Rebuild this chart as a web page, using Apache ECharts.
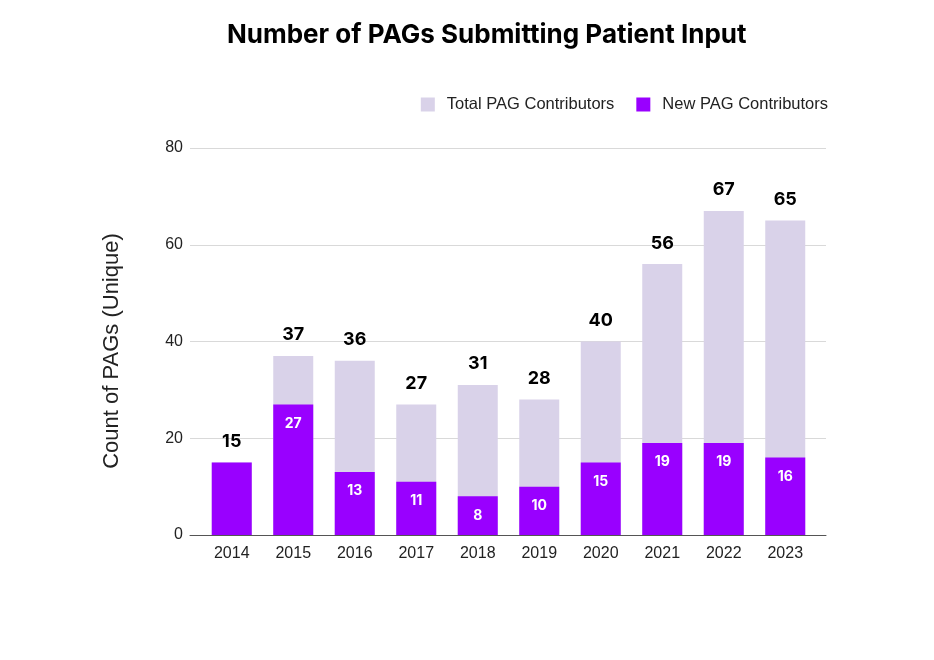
<!DOCTYPE html>
<html><head><meta charset="utf-8">
<script src="https://cdn.jsdelivr.net/npm/echarts@6/dist/echarts.min.js"></script>
<style>html,body{margin:0;padding:0;background:#fff}#c{width:934px;height:660px}</style>
</head><body><div id="c"></div>
<script>
const years = ['2014','2015','2016','2017','2018','2019','2020','2021','2022','2023'];
const totalContributors = [15,37,36,27,31,28,40,56,67,65];
const newContributors = [15,27,13,11,8,10,15,19,19,16];
const yTicks = [0,20,40,60,80];

const chart = echarts.init(document.getElementById('c'));
chart.setOption({
  backgroundColor:'#fff',
  animation:false,
  title:{text:'Number of PAGs Submitting Patient Input',left:222,top:17,
    textStyle:{fontFamily:'Inter',fontWeight:'bold',fontSize:26,color:'#000'}},
  legend:{right:101,top:91,itemWidth:14,itemHeight:14,itemGap:22,icon:'rect',
    textStyle:{fontFamily:'Liberation Sans',fontSize:16.5,color:'#222',padding:[0,0,0,7]},
    data:['Total PAG Contributors','New PAG Contributors']},
  graphic:[{type:'text',x:112,y:351,rotation:Math.PI/2,
    style:{text:'Count of PAGs (Unique)',fontFamily:'Liberation Sans',fontSize:22,fill:'#222',
      textAlign:'center',textVerticalAlign:'middle'}}],
  grid:[{left:190,right:108,top:148,bottom:125},{left:201,right:118,top:148,bottom:125}],
  xAxis:[
    {type:'category',gridIndex:0,data:years,axisLine:{lineStyle:{color:'#555'}},
      axisTick:{show:false},axisLabel:{show:false}},
    {type:'category',gridIndex:1,data:years,axisLine:{show:false},axisTick:{show:false},
      axisLabel:{fontFamily:'Liberation Sans',fontSize:16,color:'#222',margin:11}}],
  yAxis:[
    {type:'value',gridIndex:0,min:yTicks[0],max:yTicks[yTicks.length-1],interval:20,
      axisLabel:{fontFamily:'Liberation Sans',fontSize:16,color:'#222',margin:7},
      splitLine:{lineStyle:{color:'#d9d9d9'}}},
    {type:'value',gridIndex:1,min:yTicks[0],max:yTicks[yTicks.length-1],interval:20,
      axisLabel:{show:false},splitLine:{show:false},axisLine:{show:false}}],
  series:[
    {name:'Total PAG Contributors',type:'bar',xAxisIndex:1,yAxisIndex:1,barWidth:40,barGap:'-100%',
      itemStyle:{color:'#d9d2e9'},
      label:{show:true,position:'top',distance:12,fontFamily:'Inter',fontWeight:'bold',fontSize:18,color:'#000'},
      data:totalContributors},
    {name:'New PAG Contributors',type:'bar',xAxisIndex:1,yAxisIndex:1,barWidth:40,
      itemStyle:{color:'#9900ff'},
      label:{show:true,position:'insideTop',distance:12,fontFamily:'Inter',fontWeight:'bold',fontSize:14,color:'#fff'},
      data:newContributors.map((v,i)=> v===totalContributors[i] ? {value:v,label:{show:false}} : v)}
  ]
});
</script></body></html>
